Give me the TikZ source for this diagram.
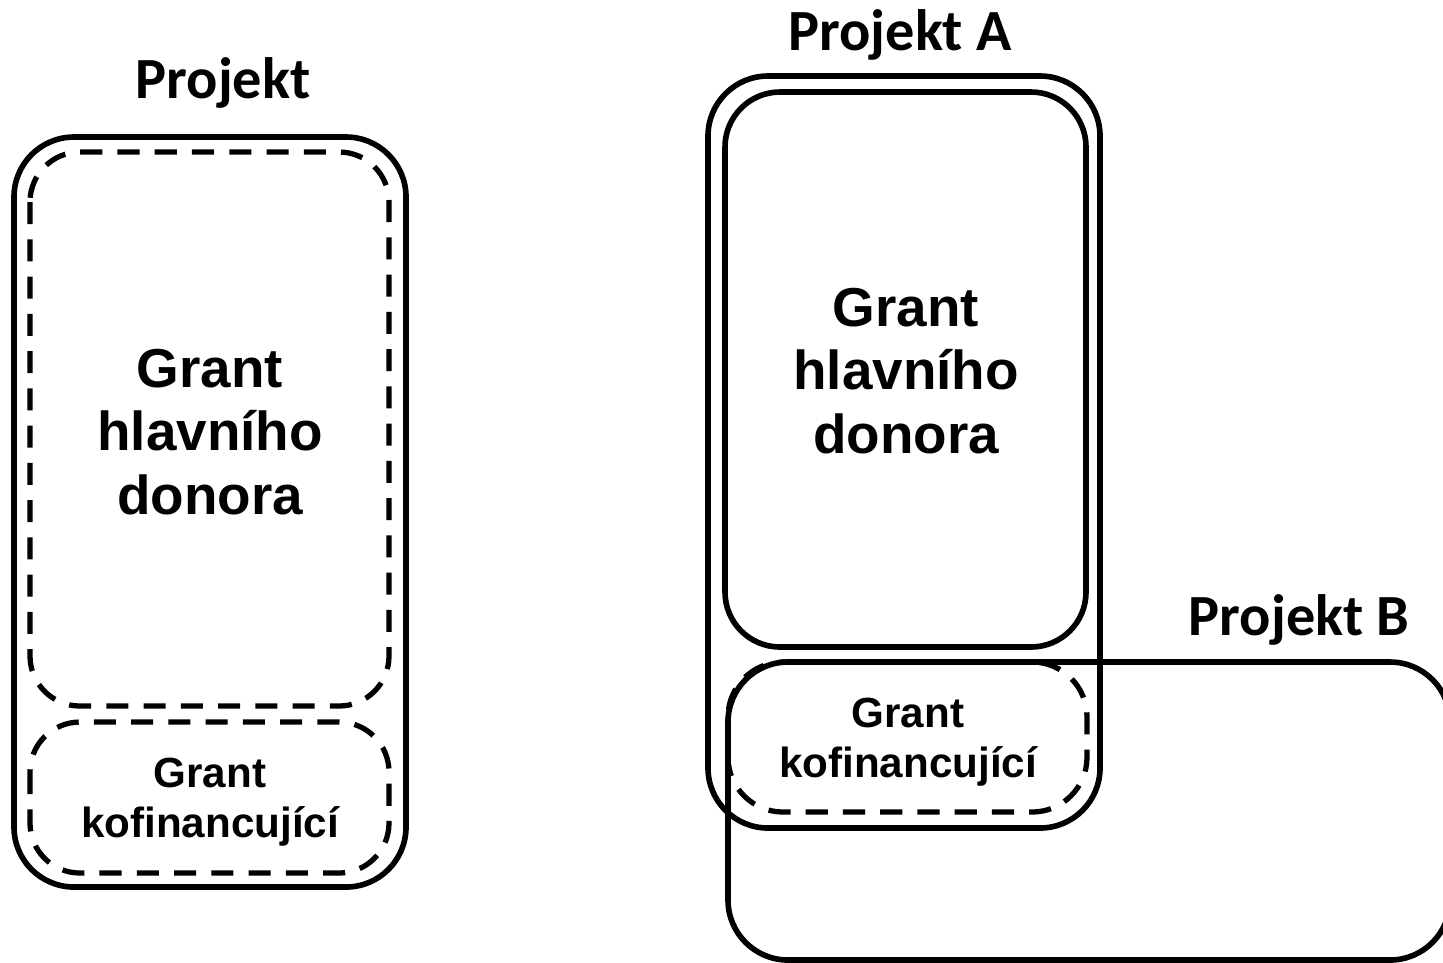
\documentclass[tikz,border=0pt]{standalone}
\usepackage{fontspec}
\setmainfont{Liberation Sans}
\newfontfamily\calibrifont{Carlito}
\usetikzlibrary{positioning}

\tikzset{
  solidbox/.style={line width=1.6pt, rounded corners=6mm},
  dashbox/.style={line width=1.5pt, dash pattern=on 6.3pt off 4.3pt, rounded corners=5mm},
  projtitle/.style={anchor=base, font=\calibrifont\bfseries\fontsize{16.6}{19}\selectfont},
  grantbig/.style={align=center, font=\bfseries\fontsize{15.6}{18}\selectfont},
  grantsmall/.style={align=center, font=\bfseries\fontsize{12}{14.2}\selectfont}
}

\begin{document}
\begin{tikzpicture}[x=0.1mm, y=-0.1mm]
        \useasboundingbox (0,0) rectangle (1443,962);
        \clip (0,0) rectangle (1443,962);

        % jeden projekt
        \draw[solidbox] (14,137) rectangle (406,887);
        \draw[dashbox] (30,152) rectangle (389,706);
        \draw[dashbox] (30,722) rectangle (389,873);
        \node[projtitle] (projekt) at (223,98) {Projekt};
        \node[grantbig] (hlavniL) at (210,432) {Grant\\hlavního\\donora};
        \node[grantsmall] (kofinL) at (210,802) {Grant\\kofinancující};

        % dva projekty
        \draw[solidbox] (728,662) rectangle (1450,960);
        \draw[solidbox] (708,76) rectangle (1100,828);
        \draw[solidbox, rounded corners=5.5mm] (725,92) rectangle (1086,647);
        \draw[dashbox, rounded corners=5.5mm] (728,662) rectangle (1087,812);
        \node[projtitle] (projektA) at (900,50) {Projekt A};
        \node[projtitle] (projektB) at (1299,635) {Projekt B};
        \node[grantbig] (hlavniA) at (906,371) {Grant\\hlavního\\donora};
        \node[grantsmall] (kofinA) at (908,742) {Grant\\kofinancující};
      \end{tikzpicture}
\end{document}
